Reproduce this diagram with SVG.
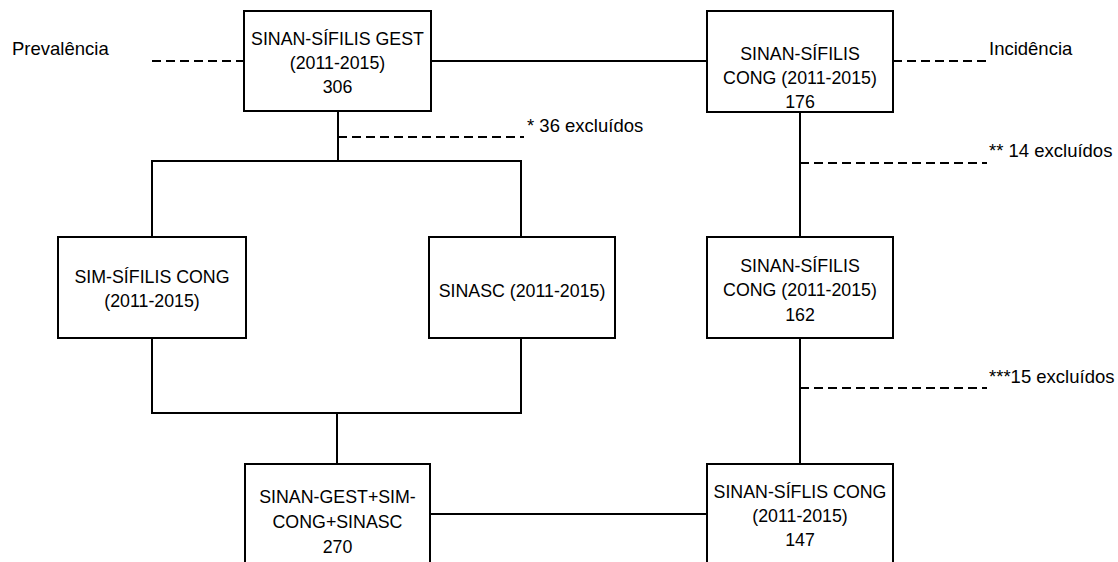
<svg xmlns="http://www.w3.org/2000/svg" width="1118" height="562" viewBox="0 0 1118 562">
<style>
.box{fill:#fff;stroke:#000;stroke-width:2}
.ln{fill:none;stroke:#000;stroke-width:2}
.dash{fill:none;stroke:#000;stroke-width:2;stroke-dasharray:9 5}
text{font-family:"Liberation Sans",Arial,sans-serif;font-size:17.8px;fill:#000}
.lbl{font-size:18.5px}
.c{text-anchor:middle}
</style>
<rect width="1118" height="562" fill="#fff"/>
<g id="connectors">
<line class="ln" x1="431" y1="61" x2="707" y2="61"/>
<line class="dash" x1="152" y1="61" x2="244" y2="61"/>
<line class="dash" x1="893" y1="61" x2="987" y2="61"/>
<polyline class="ln" points="338,111 338,161"/>
<polyline class="ln" points="152,237 152,161 521,161 521,237"/>
<line class="dash" x1="338" y1="137" x2="524" y2="137"/>
<polyline class="ln" points="152,338 152,413 521,413 521,338"/>
<line class="ln" x1="337" y1="413" x2="337" y2="464"/>
<line class="ln" x1="800" y1="112" x2="800" y2="237"/>
<line class="dash" x1="800" y1="163" x2="987" y2="163"/>
<line class="ln" x1="800" y1="338" x2="800" y2="464"/>
<line class="dash" x1="800" y1="388" x2="987" y2="388"/>
<line class="ln" x1="430" y1="514" x2="707" y2="514"/>
</g>
<g id="lbl-prev"><text class="lbl" x="12" y="55">Prevalência</text></g>
<g id="lbl-inc"><text class="lbl" x="989" y="55">Incidência</text></g>
<g id="lbl-ex36"><text class="lbl" x="527" y="132">* 36 excluídos</text></g>
<g id="lbl-ex14"><text class="lbl" x="989" y="157">** 14 excluídos</text></g>
<g id="lbl-ex15"><text class="lbl" x="989" y="383">***15 excluídos</text></g>
<g id="n-gest">
<rect class="box" x="244" y="11" width="187" height="100"/>
<text class="c" x="337.5" y="45">SINAN-SÍFILIS GEST</text>
<text class="c" x="337.5" y="69">(2011-2015)</text>
<text class="c" x="337.5" y="93">306</text>
</g>
<g id="n-cong176">
<rect class="box" x="707" y="11" width="186" height="101"/>
<text class="c" x="800" y="60">SINAN-SÍFILIS</text>
<text class="c" x="800" y="84">CONG (2011-2015)</text>
<text class="c" x="800" y="108">176</text>
</g>
<g id="n-sim">
<rect class="box" x="58" y="237" width="188" height="101"/>
<text class="c" x="152" y="283">SIM-SÍFILIS CONG</text>
<text class="c" x="152" y="307">(2011-2015)</text>
</g>
<g id="n-sinasc">
<rect class="box" x="429" y="237" width="186" height="101"/>
<text class="c" x="522" y="297">SINASC (2011-2015)</text>
</g>
<g id="n-cong162">
<rect class="box" x="707" y="237" width="186" height="101"/>
<text class="c" x="800" y="272">SINAN-SÍFILIS</text>
<text class="c" x="800" y="296">CONG (2011-2015)</text>
<text class="c" x="800" y="321">162</text>
</g>
<g id="n-merge">
<rect class="box" x="245" y="464" width="185" height="110"/>
<text class="c" x="337.5" y="503">SINAN-GEST+SIM-</text>
<text class="c" x="337.5" y="528">CONG+SINASC</text>
<text class="c" x="337.5" y="553">270</text>
</g>
<g id="n-cong147">
<rect class="box" x="707" y="464" width="186" height="110"/>
<text class="c" x="800" y="498">SINAN-SÍFLIS CONG</text>
<text class="c" x="800" y="522">(2011-2015)</text>
<text class="c" x="800" y="546">147</text>
</g>
</svg>
